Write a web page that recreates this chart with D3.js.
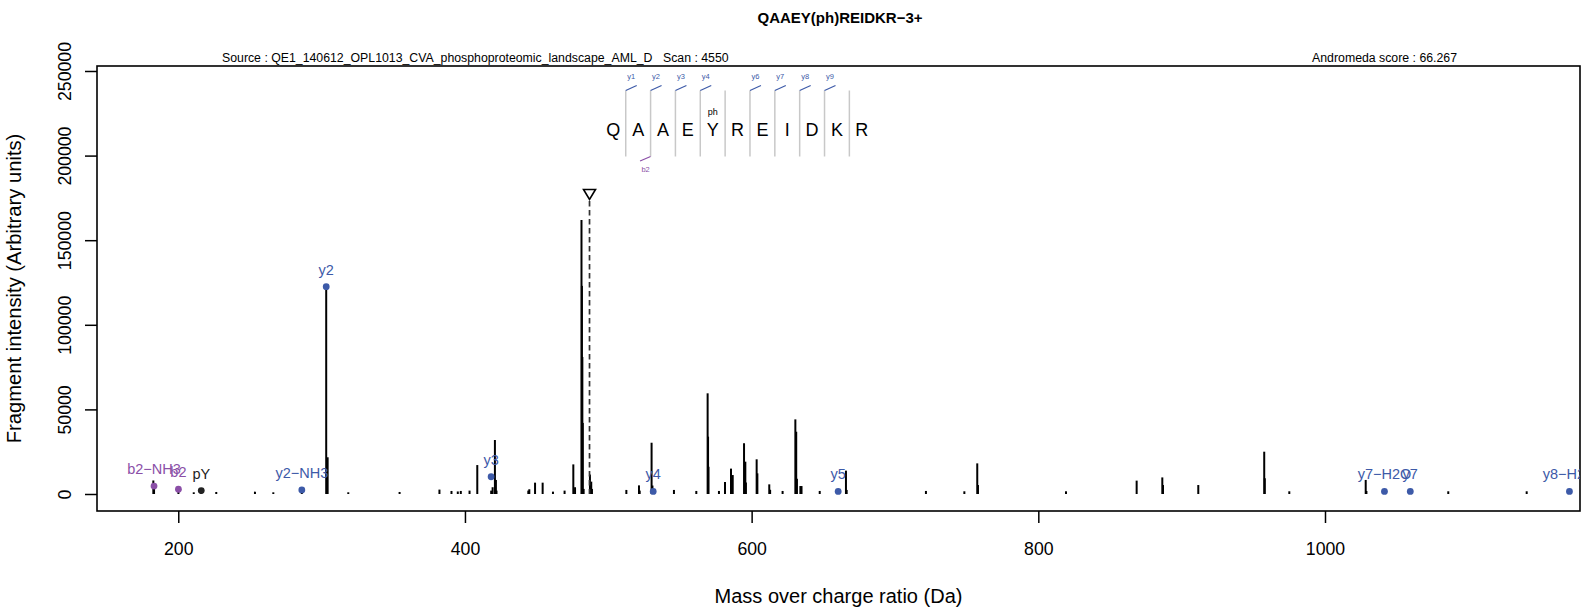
<!DOCTYPE html>
<html>
<head>
<meta charset="utf-8">
<script src="https://cdn.jsdelivr.net/npm/d3@7"></script>
<style>
  html, body { margin: 0; padding: 0; background: #fff; }
  svg { display: block; font-family: "Liberation Sans", Arial, Helvetica, sans-serif; }
</style>
</head>
<body>
<svg id="chart" width="1583" height="607"></svg>
<script>
// Spectrum header
const titleText = "QAAEY(ph)REIDKR\u22123+";
const sourceText = "Source : QE1_140612_OPL1013_CVA_phosphoproteomic_landscape_AML_D";
const scanText = "Scan : 4550";
const scoreText = "Andromeda score : 66.267";

// Axis ticks
const xTicks = [200, 400, 600, 800, 1000];
const yTicks = [0, 50000, 100000, 150000, 200000, 250000];

// Fragment peaks: m/z and intensity
const peakMz = [
  182.6, 183.1, 200.1, 210.8, 216.0, 226.5, 253.5, 266.3, 286.2, 303.2, 304.2, 318.6,
  354.4, 382.2, 390.6, 395.0, 397.1, 403.2, 408.6, 418.3, 419.3, 420.9, 421.6, 422.0,
  444.2, 444.9, 448.9, 454.2, 461.4, 469.5, 475.6, 476.8, 481.3, 481.6, 481.9, 482.2,
  482.8, 487.2, 488.1, 488.6, 512.6, 521.4, 521.9, 530.2, 530.8, 545.8, 561.4, 569.3,
  569.6, 569.9, 577.2, 581.4, 585.6, 586.8, 594.7, 595.6, 596.0, 603.5, 604.0, 612.3,
  612.9, 621.6, 630.5, 631.1, 631.6, 634.0, 634.8, 647.5, 665.8, 666.3, 721.6, 748.4,
  757.4, 757.9, 819.3, 868.6, 886.5, 887.0, 911.6, 957.6, 958.0, 975.1, 1028.4, 1028.9,
  1086.0, 1140.7
];
const peakIntensity = [
  8000, 3000, 3300, 1000, 2000, 1200, 1400, 1000, 2400, 122500, 21700, 1000,
  1200, 2600, 1800, 1500, 1800, 2000, 17100, 2000, 4000, 31900, 8300, 2000,
  2000, 2800, 6700, 6700, 1400, 2000, 17500, 4000, 162000, 123000, 81000, 42000,
  3000, 11500, 7300, 3000, 2400, 5100, 2000, 30300, 5000, 2400, 1800, 59500,
  33900, 16100, 1800, 7100, 15000, 11200, 30000, 19100, 6800, 20500, 12200, 5700,
  2500, 1800, 44100, 36800, 9000, 4700, 4700, 1800, 13800, 2400, 1800, 1600,
  18100, 5300, 1600, 7900, 9800, 5300, 5300, 25000, 9300, 1600, 8300, 1800,
  1600, 1600
];

// Annotated fragment ions
const ionLabels = ["b2\u2212NH3", "b2", "pY", "y2\u2212NH3", "y2", "y3", "y4", "y5", "y7\u2212H2O", "y7", "y8\u2212H2O"];
const ionMz = [183.08, 200.10, 216.04, 286.19, 303.21, 418.24, 531.33, 660.37, 1041.49, 1059.50, 1170.53];
const ionIntensity = [4700, 2800, 2000, 2400, 122500, 10200, 1500, 1500, 1500, 1500, 1500];
const ionSeries = ["b", "b", "imm", "y", "y", "y", "y", "y", "y", "y", "y"];

// Precursor m/z (3+)
const precursorMz = 486.90;

// Peptide sequence and fragment coverage map
const residues = ["Q", "A", "A", "E", "Y", "R", "E", "I", "D", "K", "R"];
const modifiedResidue = 4;          // index of the phosphorylated Y
const modLabel = "ph";
const yBreaks = [1, 2, 3, 4, 6, 7, 8, 9];
const yBreakLabels = ["y1", "y2", "y3", "y4", "y6", "y7", "y8", "y9"];
const bBreaks = [2];
const bBreakLabels = ["b2"];

const colors = { y: "#3d5aa8", b: "#8b4fa7", imm: "#222222" };

const svg = d3.select("#chart");
const plot = { left: 97, right: 1580, top: 66, bottom: 511 };

const x = d3.scaleLinear().domain([143.3, 1177.9]).range([plot.left, plot.right]);
const y = d3.scaleLinear().domain([-10050, 252950]).range([plot.bottom, plot.top]);

svg.append("defs").append("clipPath").attr("id", "plotclip")
  .append("rect")
  .attr("x", plot.left).attr("y", plot.top)
  .attr("width", plot.right - plot.left).attr("height", plot.bottom - plot.top);

// Title and header lines
svg.append("text").attr("x", 840).attr("y", 23).attr("text-anchor", "middle")
  .attr("font-weight", "bold").attr("font-size", 15).text(titleText);
svg.append("text").attr("x", 222).attr("y", 61.5).attr("font-size", 12.3).text(sourceText);
svg.append("text").attr("x", 663).attr("y", 61.5).attr("font-size", 12.3).text(scanText);
svg.append("text").attr("x", 1457).attr("y", 61.5).attr("text-anchor", "end")
  .attr("font-size", 12.3).text(scoreText);

// Axes
const xAxis = svg.append("g").attr("transform", `translate(0,${plot.bottom})`)
  .call(d3.axisBottom(x).tickValues(xTicks).tickSize(12).tickPadding(19).tickFormat(d3.format("d")));
xAxis.select(".domain").remove();
xAxis.selectAll("line").attr("stroke", "#000").attr("stroke-width", 1.5);
xAxis.selectAll("text").attr("font-size", 17.7).attr("font-family", "Liberation Sans, Arial, sans-serif").attr("fill", "#000");

const yAxis = svg.append("g").attr("transform", `translate(${plot.left},0)`)
  .call(d3.axisLeft(y).tickValues(yTicks).tickSize(12).tickFormat(d3.format("d")));
yAxis.select(".domain").remove();
yAxis.selectAll("line").attr("stroke", "#000").attr("stroke-width", 1.5);
yAxis.selectAll("text")
  .attr("x", 0).attr("dy", 0).attr("y", 0)
  .attr("text-anchor", "middle")
  .attr("transform", "translate(-26,0) rotate(-90)")
  .attr("font-size", 17.7).attr("font-family", "Liberation Sans, Arial, sans-serif").attr("fill", "#000");

// Axis titles
svg.append("text").attr("x", (plot.left + plot.right) / 2).attr("y", 603)
  .attr("text-anchor", "middle").attr("font-size", 20).text("Mass over charge ratio (Da)");
svg.append("text")
  .attr("transform", `translate(20.5,${(plot.top + plot.bottom) / 2}) rotate(-90)`)
  .attr("text-anchor", "middle").attr("font-size", 20.2).text("Fragment intensity (Arbitrary units)");

// Plot frame
svg.append("rect")
  .attr("x", plot.left).attr("y", plot.top)
  .attr("width", plot.right - plot.left).attr("height", plot.bottom - plot.top)
  .attr("fill", "none").attr("stroke", "#000").attr("stroke-width", 1.6);

const inner = svg.append("g").attr("clip-path", "url(#plotclip)");

// Peak sticks
const peaks = peakMz.map((mz, i) => ({ mz, intensity: peakIntensity[i] }));
inner.append("g").selectAll("line").data(peaks).join("line")
  .attr("x1", d => x(d.mz)).attr("x2", d => x(d.mz))
  .attr("y1", y(0)).attr("y2", d => y(d.intensity))
  .attr("stroke", "#000").attr("stroke-width", 2);

// Precursor marker
const px = x(precursorMz);
inner.append("line")
  .attr("x1", px).attr("x2", px).attr("y1", 201).attr("y2", y(0))
  .attr("stroke", "#333").attr("stroke-width", 1.7).attr("stroke-dasharray", "5.5,3.5");
inner.append("path")
  .attr("d", `M${px - 6},189.5 L${px + 6},189.5 L${px},199.5 Z`)
  .attr("fill", "#fff").attr("stroke", "#000").attr("stroke-width", 1.6)
  .attr("stroke-linejoin", "miter");

// Annotated ions
const ions = ionLabels.map((label, i) => ({
  label, mz: ionMz[i], intensity: ionIntensity[i], series: ionSeries[i]
}));
const ionG = inner.append("g");
ionG.selectAll("circle").data(ions).join("circle")
  .attr("cx", d => x(d.mz)).attr("cy", d => y(d.intensity)).attr("r", 3.4)
  .attr("fill", d => colors[d.series]);
ionG.selectAll("text").data(ions).join("text")
  .attr("x", d => x(d.mz)).attr("y", d => y(d.intensity) - 12)
  .attr("text-anchor", "middle").attr("font-size", 14.5)
  .attr("fill", d => colors[d.series]).text(d => d.label);

// Peptide sequence with fragment coverage
const seq = d3.scalePoint().domain(d3.range(residues.length)).range([613.3, 861.8]);
const step = seq.step();
const seqG = svg.append("g");
const breakX = k => seq(k - 1) + step / 2;

seqG.selectAll("line.sep").data(d3.range(1, residues.length)).join("line")
  .attr("class", "sep")
  .attr("x1", breakX).attr("x2", breakX).attr("y1", 90.5).attr("y2", 156.5)
  .attr("stroke", "#c8c8c8").attr("stroke-width", 1.5);

seqG.selectAll("text.res").data(residues).join("text")
  .attr("class", "res")
  .attr("x", (d, i) => seq(i)).attr("y", 136)
  .attr("text-anchor", "middle").attr("font-size", 18).text(d => d);

seqG.append("text").attr("x", seq(modifiedResidue)).attr("y", 114.5)
  .attr("text-anchor", "middle").attr("font-size", 9).text(modLabel);

yBreaks.forEach((k, i) => {
  const bx = breakX(k);
  seqG.append("line").attr("x1", bx).attr("y1", 90.5).attr("x2", bx + 11).attr("y2", 85.5)
    .attr("stroke", colors.y).attr("stroke-width", 1.2);
  seqG.append("text").attr("x", bx + 5.5).attr("y", 79)
    .attr("text-anchor", "middle").attr("font-size", 7.5).attr("fill", colors.y)
    .text(yBreakLabels[i]);
});
bBreaks.forEach((k, i) => {
  const bx = breakX(k);
  seqG.append("line").attr("x1", bx).attr("y1", 156.5).attr("x2", bx - 10.5).attr("y2", 161)
    .attr("stroke", colors.b).attr("stroke-width", 1.2);
  seqG.append("text").attr("x", bx - 5).attr("y", 172)
    .attr("text-anchor", "middle").attr("font-size", 7.5).attr("fill", colors.b)
    .text(bBreakLabels[i]);
});
</script>
</body>
</html>
